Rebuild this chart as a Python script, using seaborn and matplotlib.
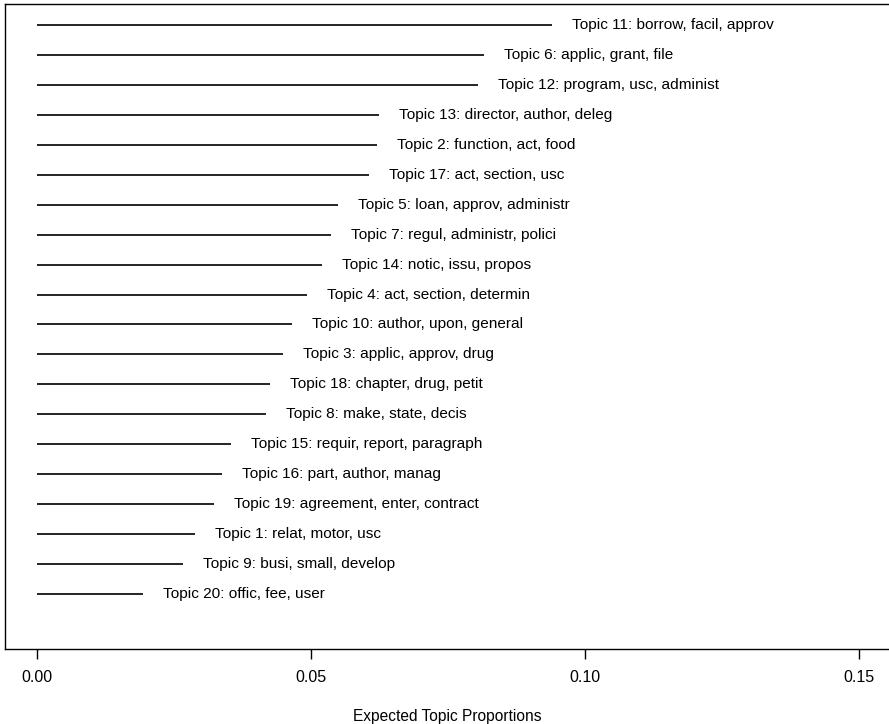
import matplotlib
matplotlib.use("Agg")
import matplotlib.pyplot as plt
import seaborn as sns

# Topic labels, ordered top to bottom as shown
topics = [
    "Topic 11: borrow, facil, approv",
    "Topic 6: applic, grant, file",
    "Topic 12: program, usc, administ",
    "Topic 13: director, author, deleg",
    "Topic 2: function, act, food",
    "Topic 17: act, section, usc",
    "Topic 5: loan, approv, administr",
    "Topic 7: regul, administr, polici",
    "Topic 14: notic, issu, propos",
    "Topic 4: act, section, determin",
    "Topic 10: author, upon, general",
    "Topic 3: applic, approv, drug",
    "Topic 18: chapter, drug, petit",
    "Topic 8: make, state, decis",
    "Topic 15: requir, report, paragraph",
    "Topic 16: part, author, manag",
    "Topic 19: agreement, enter, contract",
    "Topic 1: relat, motor, usc",
    "Topic 9: busi, small, develop",
    "Topic 20: offic, fee, user",
]
proportions = [
    0.0940, 0.0816, 0.0805, 0.0624, 0.0620, 0.0606, 0.0549, 0.0536, 0.0520, 0.0493,
    0.0465, 0.0449, 0.0425, 0.0418, 0.0354, 0.0338, 0.0323, 0.0288, 0.0266, 0.0193,
]
x_ticks = [0.00, 0.05, 0.10, 0.15]
x_tick_labels = ["0.00", "0.05", "0.10", "0.15"]

sns.set_style("white")
plt.rcParams['font.family'] = ['Liberation Sans', 'DejaVu Sans']

fig = plt.figure(figsize=(8.89, 7.24), dpi=100)
ax = fig.add_axes([5 / 889, 75 / 724, 884 / 889, 645 / 724])

# y positions: top topic gets the highest value
n = len(topics)
y_pos = list(range(n, 0, -1))

ax.hlines(y_pos, 0, proportions, color="black", linewidth=1.2)
for y, val, lab in zip(y_pos, proportions, topics):
    ax.annotate(lab, xy=(val, y), xytext=(14.4, 0), textcoords="offset points",
                ha="left", va="center", fontsize=11.1, color="black")

ax.set_xlim(-0.00584, 0.15547)
ax.set_ylim(-0.836, 20.70)
ax.set_yticks([])
ax.set_xticks(x_ticks)
ax.set_xticklabels(x_tick_labels, fontsize=11.5)
ax.tick_params(axis="x", direction="out", length=7.2, width=1.0, pad=8, colors="black",
               bottom=True)
ax.set_xlabel("Expected Topic Proportions", fontsize=11.2, labelpad=17, color="black")

for side in ["left", "top", "bottom"]:
    ax.spines[side].set_visible(True)
    ax.spines[side].set_color("black")
    ax.spines[side].set_linewidth(1.0)
ax.spines["right"].set_visible(False)

fig.savefig("out.png", dpi=100)
